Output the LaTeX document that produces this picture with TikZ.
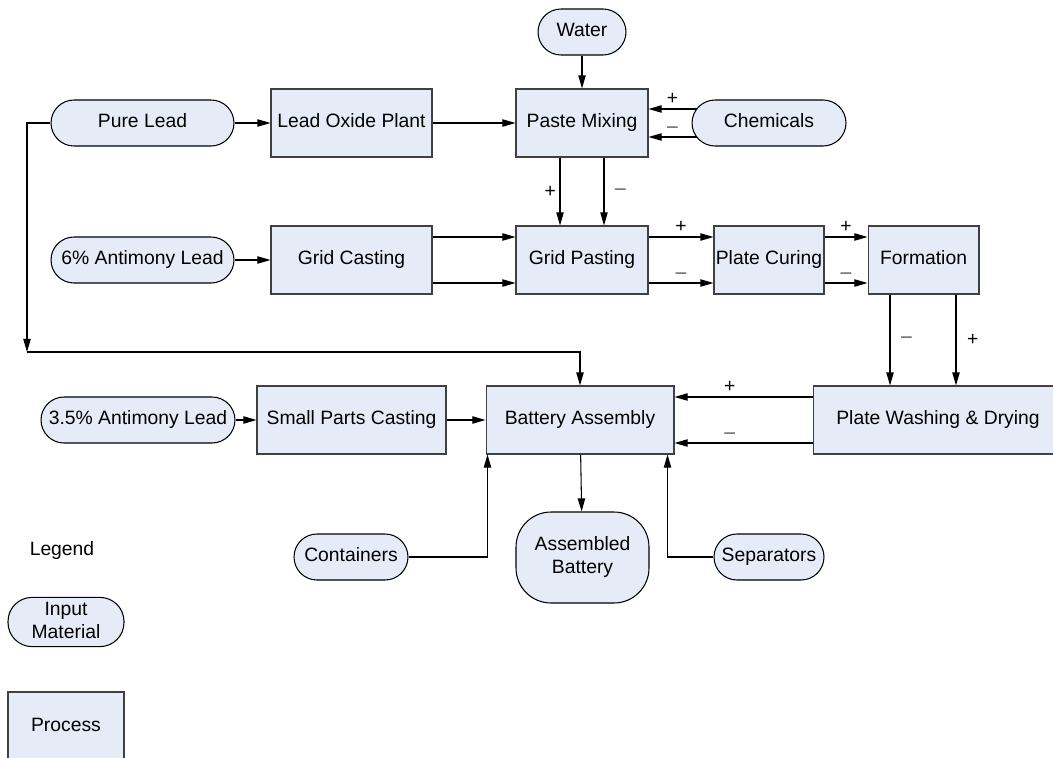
\documentclass[tikz,border=0pt]{standalone}
\usepackage{fontspec}
\setmainfont{Liberation Sans}
\usetikzlibrary{arrows.meta}
\definecolor{boxfill}{RGB}{230,236,247}

\begin{document}
\begin{tikzpicture}[x=0.02cm, y=-0.02cm, line width=0.6pt,
    >={Triangle[length=7.5pt,width=4.2pt]},
    font=\fontsize{11}{13}\selectfont,
    proc/.style={rectangle, draw=black!75, fill=boxfill, minimum height=1.36cm, inner sep=1pt, execute at begin node=\strut},
    inp/.style={rectangle, rounded corners=0.46cm, draw=black, fill=boxfill, minimum height=0.92cm, inner sep=1pt, execute at begin node=\strut},
    sgn/.style={font=\fontsize{11}{12}\selectfont, inner sep=2pt}]
    \clip (0,0) rectangle (1053,757);
    % inputs and processes
    \node (water) [inp, minimum width=1.76cm] at (582,32) {Water};
    \node (pure) [inp, minimum width=3.66cm] at (142.5,123) {Pure Lead};
    \node (oxide) [proc, minimum width=3.22cm] at (351.5,123) {Lead Oxide Plant};
    \node (paste) [proc, minimum width=2.64cm] at (582,123) {Paste Mixing};
    \node (chem) [inp, minimum width=3.08cm] at (769,123) {Chemicals};
    \node (anti6) [inp, minimum width=3.66cm] at (142.5,260) {6\% Antimony Lead};
    \node (grid) [proc, minimum width=3.22cm] at (351.5,260) {Grid Casting};
    \node (gpaste) [proc, minimum width=2.64cm] at (582,260) {Grid Pasting};
    \node (curing) [proc, minimum width=2.2cm] at (769,260) {Plate Curing};
    \node (form) [proc, minimum width=2.22cm] at (923.5,260) {Formation};
    \node (anti35) [inp, minimum width=3.88cm] at (138,420) {3.5\% Antimony Lead};
    \node (small) [proc, minimum width=3.78cm] at (351.5,420) {Small Parts Casting};
    \node (batt) [proc, minimum width=3.76cm] at (580,420) {Battery Assembly};
    \node (wash) [proc, minimum width=5.0cm] at (938,420) {Plate Washing \& Drying};
    \node (cont) [inp, minimum width=2.28cm] at (351,557) {Containers};
    \node (assem) [inp, rounded corners=0.7cm, minimum width=2.66cm, minimum height=1.82cm] at (582.5,557.5) {\begin{tabular}{c}
         Assembled\\ Battery
    \end{tabular}};
    \node (sep) [inp, minimum width=2.2cm] at (769,557) {Separators};
    % legend
    \node (legend) at (62,550) {Legend};
    \node (leginp) [inp, rounded corners=0.48cm, minimum width=2.32cm, minimum height=0.96cm] at (66,622) {\begin{tabular}{c}
         Input\\ Material
    \end{tabular}};
    \node (legproc) [proc, minimum width=2.32cm, minimum height=1.4cm] at (66,727) {Process};
    % connectors
    \coordinate (turn) at (27,352);
    \draw[->] (water) -- (paste);
    \draw[->] (pure) -- (oxide);
    \draw[->] (oxide) -- (paste);
    \draw[->] ([xshift=0.1cm,yshift=0.28cm]chem.west) -- ([yshift=0.28cm]paste.east) node[sgn, midway, above] {+};
    \draw[->] ([xshift=0.1cm,yshift=-0.28cm]chem.west) -- ([yshift=-0.28cm]paste.east) node[sgn, midway, above, text=black!70] {--};
    \draw[->] ([xshift=-0.44cm]paste.south) -- ([xshift=-0.44cm]gpaste.north) node[sgn, midway, left] {+};
    \draw[->] ([xshift=0.44cm]paste.south) -- ([xshift=0.44cm]gpaste.north) node[sgn, midway, right=4pt, text=black!70] {--};
    \draw[->] (anti6) -- (grid);
    \draw[->] ([yshift=0.46cm]grid.east) -- ([yshift=0.46cm]gpaste.west);
    \draw[->] ([yshift=-0.46cm]grid.east) -- ([yshift=-0.46cm]gpaste.west);
    \draw[->] ([yshift=0.46cm]gpaste.east) -- ([yshift=0.46cm]curing.west) node[sgn, midway, above] {+};
    \draw[->] ([yshift=-0.46cm]gpaste.east) -- ([yshift=-0.46cm]curing.west) node[sgn, midway, above, text=black!70] {--};
    \draw[->] ([yshift=0.46cm]curing.east) -- ([yshift=0.46cm]form.west) node[sgn, midway, above] {+};
    \draw[->] ([yshift=-0.46cm]curing.east) -- ([yshift=-0.46cm]form.west) node[sgn, midway, above, text=black!70] {--};
    \draw[->] ([xshift=-0.67cm]form.south) -- ([xshift=-0.67cm]form.south |- wash.north) node[sgn, midway, right=4pt, text=black!70] {--};
    \draw[->] ([xshift=0.65cm]form.south) -- ([xshift=0.65cm]form.south |- wash.north) node[sgn, midway, right=4pt] {+};
    \draw[->] ([yshift=0.46cm]wash.west) -- ([yshift=0.46cm]batt.east) node[sgn, pos=0.6, above] {+};
    \draw[->] ([yshift=-0.46cm]wash.west) -- ([yshift=-0.46cm]batt.east) node[sgn, pos=0.6, above, text=black!70] {--};
    \draw[->] (pure.west) -| (turn);
    \draw[->] (turn) -| (batt.north);
    \draw[->] (anti35) -- (small);
    \draw[->] (small) -- (batt);
    \draw[->] (batt) -- (assem);
    \draw[->] (cont.east) -| ([xshift=0.04cm]batt.south west);
    \draw[->] (sep.west) -| ([xshift=-0.14cm]batt.south east);
\end{tikzpicture}
\end{document}
